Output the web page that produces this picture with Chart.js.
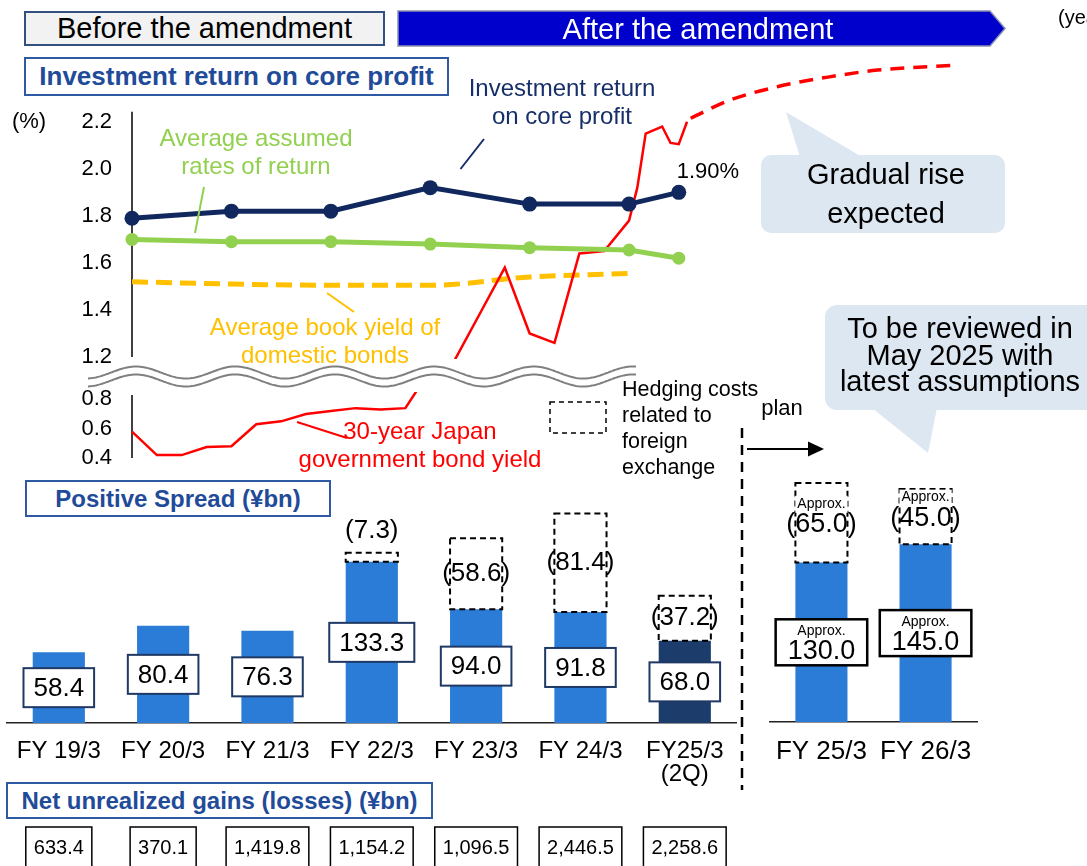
<!DOCTYPE html>
<html>
<head>
<meta charset="utf-8">
<title>Investment return on core profit and positive spread</title>
<script src="https://cdn.jsdelivr.net/npm/chart.js@4.4.1/dist/chart.umd.min.js"></script>
<style>
html, body { margin:0; padding:0; background:#fff; }
body { position:relative; width:1087px; height:866px; overflow:hidden; font-family:"Liberation Sans", Arial, sans-serif; color:#000; }
canvas { position:absolute; z-index:1; }
svg.deco { position:absolute; left:0; top:0; z-index:2; }
.c { position:absolute; transform:translate(-50%,-50%); text-align:center; white-space:nowrap; z-index:3; }
.l { position:absolute; white-space:nowrap; z-index:3; }
.box { position:absolute; box-sizing:border-box; display:flex; align-items:center; justify-content:center; white-space:nowrap; z-index:3; }
.title { border:2px solid #2f5aa3; background:#fff; color:#1f4b99; font-weight:bold; font-size:24px; }
</style>
</head>
<body>

<div class="box" style="left:24px;top:11px;width:361px;height:35px;background:#f2f2f2;border:2px solid #34507f;font-size:29px;">Before the amendment</div>
<div class="c" style="left:698px;top:29px;color:#fff;font-size:29px;">After the amendment</div>
<div class="l" style="left:1058px;top:6px;font-size:20px;">(year)</div>

<div class="box title" style="left:24px;top:57px;width:425px;height:39px;font-size:26px;">Investment return on core profit</div>
<div class="c" style="left:29px;top:121px;font-size:22px;">(%)</div>
<div class="c" style="left:562px;top:102px;font-size:24px;line-height:28px;color:#172f69;">Investment return<br>on core profit</div>
<div class="c" style="left:256px;top:152px;font-size:24px;line-height:28px;color:#92d050;">Average assumed<br>rates of return</div>
<div class="c" style="left:325px;top:341px;font-size:24px;line-height:28px;color:#ffc000;">Average book yield of<br>domestic bonds</div>
<div class="c" style="left:420px;top:445px;font-size:24px;line-height:28px;color:#ff0000;">30-year Japan<br>government bond yield</div>
<div class="l" style="left:622px;top:376px;font-size:21.5px;line-height:26px;">Hedging costs<br>related to<br>foreign<br>exchange</div>
<div class="c" style="left:782px;top:408px;font-size:22px;">plan</div>
<div class="c" style="left:886px;top:194px;font-size:29px;line-height:39px;">Gradual rise<br>expected</div>
<div class="c" style="left:960px;top:355px;font-size:29px;line-height:26.5px;">To be reviewed in<br>May 2025 with<br>latest assumptions</div>

<div class="box title" style="left:25px;top:480px;width:306px;height:37px;">Positive Spread (¥bn)</div>
<div class="box title" style="left:6px;top:782px;width:427px;height:37px;">Net unrealized gains (losses) (¥bn)</div>

<svg class="deco" width="1087" height="866">
  <polygon points="398,11 990,11 1005,28.5 990,46 398,46" fill="#0000cc" stroke="#8a8fae" stroke-width="1.5"/>
  <rect x="761" y="155" width="244" height="78" rx="10" fill="#dde7f2"/>
  <polygon points="800,157 862,157 786,112" fill="#dde7f2"/>
  <rect x="825" y="305" width="280" height="105" rx="12" fill="#dde7f2"/>
  <polygon points="872,408 937,408 928,453" fill="#dde7f2"/>
  <line x1="460.5" y1="169" x2="484" y2="139" stroke="#172f69" stroke-width="2"/>
  <line x1="204" y1="187" x2="195" y2="233" stroke="#92d050" stroke-width="2"/>
  <line x1="327" y1="293" x2="354" y2="312" stroke="#ffc000" stroke-width="2"/>
  <line x1="297" y1="422" x2="347" y2="438" stroke="#ff0000" stroke-width="2"/>
  <rect x="550" y="402" width="56" height="31" fill="none" stroke="#000" stroke-width="1.5" stroke-dasharray="5 4"/>
  <line x1="742" y1="428" x2="742" y2="790" stroke="#000" stroke-width="2.5" stroke-dasharray="10 7"/>
  <line x1="747" y1="449" x2="810" y2="449" stroke="#000" stroke-width="2"/>
  <polygon points="808,441.5 824,449 808,456.5" fill="#000"/>
  <path id="waveFill" fill="#fff" stroke="none"/>
  <path id="waveTop" fill="none" stroke="#808080" stroke-width="2"/>
  <path id="waveBot" fill="none" stroke="#808080" stroke-width="2"/>
</svg>

<canvas id="lineTop" width="905" height="314" style="left:72px;top:63px;"></canvas>
<canvas id="lineBot" width="905" height="88" style="left:72px;top:382px;"></canvas>
<canvas id="barLeft" width="740" height="385" style="left:0px;top:481px;"></canvas>
<canvas id="barRight" width="225" height="350" style="left:761px;top:440px;"></canvas>

<script>
// ---- line chart data (x = years after FY19/3) ----
var lineYears = [0, 1, 2, 3, 4, 5, 5.5];
var coreReturn = [1.79, 1.82, 1.82, 1.92, 1.85, 1.85, 1.90];
var assumedRate = [1.70, 1.69, 1.69, 1.68, 1.665, 1.655, 1.62];
var bookYears = [0, 1, 2, 3, 4, 5];
var bookYield = [1.52, 1.51, 1.505, 1.505, 1.54, 1.555];
var jgbX = [0, 0.25, 0.5, 0.75, 1, 1.25, 1.5, 1.75, 2, 2.25, 2.5, 2.75, 3, 3.25, 3.5, 3.75, 4, 4.25, 4.5, 4.75, 5, 5.083, 5.167, 5.333, 5.417, 5.5, 5.583];
var jgbYield = [0.58, 0.42, 0.42, 0.475, 0.48, 0.63, 0.65, 0.70, 0.72, 0.74, 0.73, 0.74, 1.0, 1.19, 1.385, 1.58, 1.30, 1.26, 1.64, 1.65, 1.78, 1.92, 2.15, 2.18, 2.11, 2.105, 2.2];
var jgbFcX = [5.62, 6, 6.5, 7, 7.5, 8.25];
var jgbFc = [2.215, 2.29, 2.35, 2.39, 2.42, 2.44];
var upperTicks = [1.2, 1.4, 1.6, 1.8, 2.0, 2.2];
var lowerTicks = [0.4, 0.6, 0.8];

// ---- positive spread data (¥bn) ----
var spreadLabels = ['FY 19/3', 'FY 20/3', 'FY 21/3', 'FY 22/3', 'FY 23/3', 'FY 24/3', ['FY25/3', '(2Q)']];
var spread = [58.4, 80.4, 76.3, 133.3, 94.0, 91.8, 68.0];
var hedgeCost = [null, null, null, 7.3, 58.6, 81.4, 37.2];
var unrealized = [633.4, 370.1, 1419.8, 1154.2, 1096.5, 2446.5, 2258.6];
var planLabels = ['FY 25/3', 'FY 26/3'];
var planSpread = [130.0, 145.0];
var planHedge = [65.0, 45.0];

var FONT = '"Liberation Sans", Arial, sans-serif';
var NAVY = '#10285e', GREEN = '#92d050', GOLD = '#ffc000', RED = '#ff0000';
var BLUE = '#2b7cd6', DARK = '#1c3d6c';
Chart.defaults.font.family = FONT;
Chart.defaults.color = '#000';

function pts(xs, ys) { return xs.map(function (x, i) { return { x: x, y: ys[i] }; }); }

// break marks between the two parts of the y axis
(function () {
  var top = [], bot = [];
  for (var x = 88; x <= 637; x += 2) {
    var w = 6 * Math.cos(2 * Math.PI * (x - 136) / 99.4);
    top.push([x, 372.5 - w]);
    bot.push([x, 380.5 - w]);
  }
  var d = function (a) { return 'M' + a.map(function (p) { return p[0] + ',' + p[1].toFixed(1); }).join(' L'); };
  document.getElementById('waveTop').setAttribute('d', d(top));
  document.getElementById('waveBot').setAttribute('d', d(bot));
  document.getElementById('waveFill').setAttribute('d', d(top.concat(bot.slice().reverse())) + ' Z');
})();

var axisLine = {
  id: 'axisLine',
  beforeDatasetsDraw: function (chart, args, opts) {
    var y = chart.scales.y, ctx = chart.ctx, x = chart.chartArea.left;
    ctx.save();
    ctx.strokeStyle = '#000';
    ctx.lineWidth = 1.5;
    ctx.beginPath();
    ctx.moveTo(x, y.getPixelForValue(opts.from));
    ctx.lineTo(x, y.getPixelForValue(opts.to));
    ctx.stroke();
    ctx.restore();
  }
};

var endLabel = {
  id: 'endLabel',
  afterDatasetsDraw: function (chart) {
    var d = chart.getDatasetMeta(0).data, p = d[d.length - 1], ctx = chart.ctx;
    ctx.save();
    ctx.font = '22px ' + FONT;
    ctx.fillStyle = '#000';
    ctx.textAlign = 'left';
    ctx.textBaseline = 'middle';
    ctx.fillText(coreReturn[coreReturn.length - 1].toFixed(2) + '%', p.x - 2, p.y - 20);
    ctx.restore();
  }
};

function yAxis(min, max, ticks) {
  return {
    min: min, max: max,
    grid: { display: false, drawTicks: false },
    border: { display: false },
    afterFit: function (s) { s.width = 60; s.paddingTop = 0; s.paddingBottom = 0; },
    afterBuildTicks: function (s) { s.ticks = ticks.map(function (v) { return { value: v }; }); },
    ticks: { padding: 20, autoSkip: false, color: '#000', font: { size: 22 }, callback: function (v) { return v.toFixed(1); } }
  };
}

new Chart(document.getElementById('lineTop'), {
  type: 'line',
  data: {
    datasets: [
      { data: pts(lineYears, coreReturn), borderColor: NAVY, backgroundColor: NAVY, borderWidth: 5, pointRadius: 7.5, pointBorderWidth: 0, clip: false },
      { data: pts(lineYears, assumedRate), borderColor: GREEN, backgroundColor: GREEN, borderWidth: 5, pointRadius: 6.5, pointBorderWidth: 0, clip: false },
      { data: pts(jgbX, jgbYield), borderColor: RED, borderWidth: 2.5, pointRadius: 0, clip: { left: false, right: false, top: false, bottom: 2 } },
      { data: pts(jgbFcX, jgbFc), borderColor: RED, borderWidth: 3.5, borderDash: [14, 9], pointRadius: 0, tension: 0.4, cubicInterpolationMode: 'monotone', clip: false },
      { data: pts(bookYears, bookYield), borderColor: GOLD, borderWidth: 5, borderDash: [16, 8], pointRadius: 0, tension: 0.4, cubicInterpolationMode: 'monotone', clip: false }
    ]
  },
  options: {
    responsive: false, animation: false,
    layout: { autoPadding: false, padding: { bottom: 20 } },
    plugins: { legend: { display: false }, tooltip: { enabled: false }, axisLine: { from: 2.243, to: 1.2 } },
    scales: {
      x: { type: 'linear', min: 0, max: 8.5, display: false },
      y: yAxis(1.2, 2.45, upperTicks)
    }
  },
  plugins: [axisLine, endLabel]
});

new Chart(document.getElementById('lineBot'), {
  type: 'line',
  data: {
    datasets: [
      { data: pts(jgbX, jgbYield), borderColor: RED, borderWidth: 2.5, pointRadius: 0, clip: { left: false, right: false, top: 0, bottom: false } }
    ]
  },
  options: {
    responsive: false, animation: false,
    layout: { autoPadding: false, padding: { top: 10, bottom: 12 } },
    plugins: { legend: { display: false }, tooltip: { enabled: false }, axisLine: { from: 0.83, to: 0.4 } },
    scales: {
      x: { type: 'linear', min: 0, max: 8.5, display: false },
      y: yAxis(0.4, 0.85, lowerTicks)
    }
  },
  plugins: [axisLine]
});

function dashedBox(ctx, p) {
  ctx.setLineDash([6, 4]);
  ctx.lineWidth = 2;
  ctx.strokeStyle = '#000';
  ctx.strokeRect(p.x - p.width / 2, p.y, p.width, p.base - p.y);
  ctx.setLineDash([]);
}

var spreadBoxes = {
  id: 'spreadBoxes',
  afterDatasetsDraw: function (chart) {
    var ctx = chart.ctx, ys = chart.scales.y, xs = chart.scales.x;
    ctx.save();
    ctx.textAlign = 'center';
    ctx.textBaseline = 'middle';
    chart.getDatasetMeta(1).data.forEach(function (bar, i) {
      if (!hedgeCost[i]) return;
      var p = bar.getProps(['x', 'y', 'base', 'width'], true), h = p.base - p.y;
      dashedBox(ctx, p);
      ctx.font = '26px ' + FONT;
      ctx.fillStyle = '#000';
      ctx.fillText('(' + hedgeCost[i].toFixed(1) + ')', p.x, h < 30 ? p.y - 22 : p.y + h / 2);
    });
    chart.getDatasetMeta(0).data.forEach(function (bar, i) {
      var cy = ys.getPixelForValue(spread[i] / 2), t = spread[i].toFixed(1);
      ctx.font = '26px ' + FONT;
      var w = ctx.measureText(t).width + 20, h = 39;
      ctx.fillStyle = '#fff';
      ctx.fillRect(bar.x - w / 2, cy - h / 2, w, h);
      ctx.lineWidth = 2;
      ctx.strokeStyle = '#1f3864';
      ctx.strokeRect(bar.x - w / 2, cy - h / 2, w, h);
      ctx.fillStyle = '#000';
      ctx.fillText(t, bar.x, cy + 1);
    });
    var top = chart.chartArea.bottom + 104;
    unrealized.forEach(function (v, i) {
      var x = xs.getPixelForValue(i);
      var t = v.toLocaleString('en-US', { minimumFractionDigits: 1, maximumFractionDigits: 1 });
      ctx.font = '20px ' + FONT;
      var w = ctx.measureText(t).width + 16;
      ctx.lineWidth = 1.5;
      ctx.strokeStyle = '#000';
      ctx.strokeRect(x - w / 2, top, w, 50);
      ctx.fillStyle = '#000';
      ctx.fillText(t, x, top + 21);
    });
    ctx.restore();
  }
};

var planBoxes = {
  id: 'planBoxes',
  afterDatasetsDraw: function (chart) {
    var ctx = chart.ctx, ys = chart.scales.y;
    ctx.save();
    ctx.textAlign = 'center';
    ctx.textBaseline = 'middle';
    chart.getDatasetMeta(1).data.forEach(function (bar, i) {
      var p = bar.getProps(['x', 'y', 'base', 'width'], true), cy = (p.y + p.base) / 2;
      dashedBox(ctx, p);
      ctx.font = '14px ' + FONT;
      var aw = ctx.measureText('Approx.').width + 4;
      ctx.fillStyle = '#fff';
      ctx.fillRect(p.x - aw / 2, cy - 27, aw, 17);
      ctx.fillStyle = '#000';
      ctx.fillText('Approx.', p.x, cy - 19);
      ctx.font = '27px ' + FONT;
      ctx.fillText('(' + planHedge[i].toFixed(1) + ')', p.x, cy + 2);
    });
    chart.getDatasetMeta(0).data.forEach(function (bar, i) {
      var cy = ys.getPixelForValue(planSpread[i] / 2), t = planSpread[i].toFixed(1);
      ctx.font = '27px ' + FONT;
      var w = ctx.measureText(t).width + 24, h = 46, top = cy - h / 2;
      ctx.fillStyle = '#fff';
      ctx.fillRect(bar.x - w / 2, top, w, h);
      ctx.lineWidth = 2.5;
      ctx.strokeStyle = '#000';
      ctx.strokeRect(bar.x - w / 2, top, w, h);
      ctx.fillStyle = '#000';
      ctx.font = '14px ' + FONT;
      ctx.fillText('Approx.', bar.x, top + 12);
      ctx.font = '27px ' + FONT;
      ctx.fillText(t, bar.x, top + 32);
    });
    ctx.restore();
  }
};

function barOptions(max, fontSize, pad, axisH, bottomPad) {
  return {
    responsive: false, animation: false,
    layout: { padding: { bottom: bottomPad } },
    plugins: { legend: { display: false }, tooltip: { enabled: false } },
    scales: {
      x: {
        stacked: true,
        grid: { display: false, drawTicks: false },
        border: { color: '#222', width: 1.5 },
        ticks: { padding: pad, color: '#000', font: { size: fontSize, lineHeight: 0.95 }, maxRotation: 0, autoSkip: false },
        afterFit: function (s) { s.height = axisH; }
      },
      y: { stacked: true, display: false, min: 0, max: max }
    }
  };
}

new Chart(document.getElementById('barLeft'), {
  type: 'bar',
  data: {
    labels: spreadLabels,
    datasets: [
      { data: spread, backgroundColor: spread.map(function (v, i) { return i === spread.length - 1 ? DARK : BLUE; }), barPercentage: 0.5, categoryPercentage: 1 },
      { data: hedgeCost, backgroundColor: 'rgba(0,0,0,0)', barPercentage: 0.5, categoryPercentage: 1 }
    ]
  },
  options: barOptions(200, 24, 17, 67, 76),
  plugins: [spreadBoxes]
});

new Chart(document.getElementById('barRight'), {
  type: 'bar',
  data: {
    labels: planLabels,
    datasets: [
      { data: planSpread, backgroundColor: BLUE, barPercentage: 0.5, categoryPercentage: 1 },
      { data: planHedge, backgroundColor: 'rgba(0,0,0,0)', barPercentage: 0.5, categoryPercentage: 1 }
    ]
  },
  options: barOptions(230, 26, 17, 68, 0),
  plugins: [planBoxes]
});
</script>
</body>
</html>
